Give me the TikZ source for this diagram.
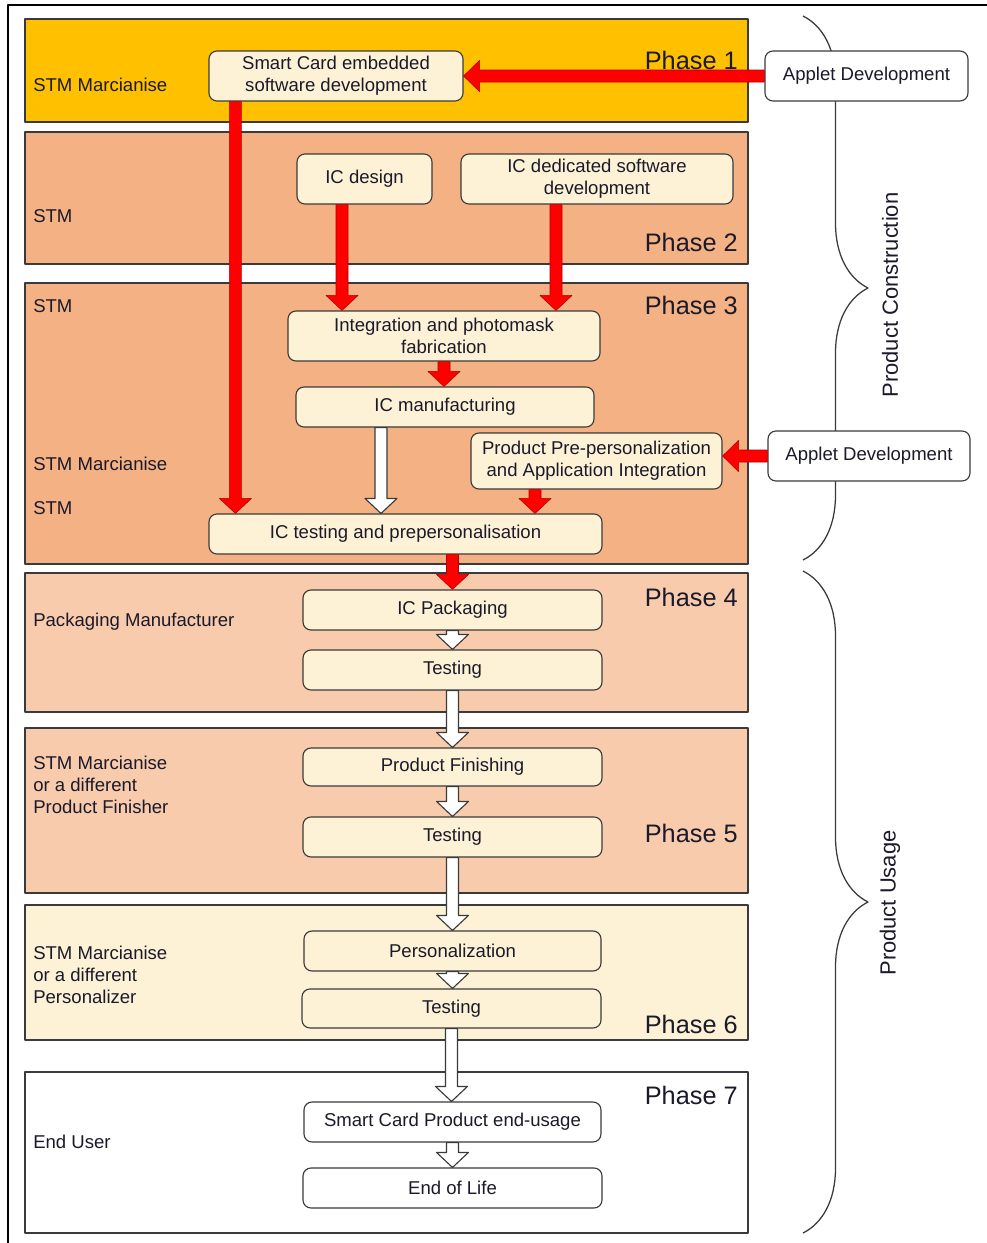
\documentclass[tikz,border=0pt]{standalone}
\usepackage{fontspec}
\setmainfont{Liberation Sans}
\usepackage{tikz}
\usetikzlibrary{calc,decorations.pathreplacing}
\definecolor{gold}{HTML}{FFC000}
\definecolor{peach}{HTML}{F4B183}
\definecolor{lightpeach}{HTML}{F8CBAD}
\definecolor{cream}{HTML}{FDF2D6}
\definecolor{ink}{HTML}{1A1A2A}
\definecolor{rim}{HTML}{3A3A3A}
\definecolor{flowred}{HTML}{FF0000}
\tikzset{
    every picture/.style={line join=round},
    band/.style={draw=rim,line width=0.9pt},
    actbox/.style={draw=rim,fill=cream,line width=0.8pt,rounded corners=2mm,
      inner sep=1pt,align=center,text=ink},
    userbox/.style={actbox,fill=white},
    who/.style={anchor=west,align=left,inner sep=0pt,text=ink},
    phase/.style={anchor=east,inner sep=0pt,text=ink,
      font=\fontsize{18}{20}\selectfont},
    sidelabel/.style={rotate=90,inner sep=0pt,text=ink,
      font=\fontsize{15.6}{18}\selectfont},
    blockdown/.style={to path={let \p1=(\tikztostart),\p2=(\tikztotarget) in
      (\x1-1.5mm,\y1) -- (\x1-1.5mm,\y2+3.75mm) -- (\x1-4mm,\y2+3.75mm) -- (\x1,\y2)
      -- (\x1+4mm,\y2+3.75mm) -- (\x1+1.5mm,\y2+3.75mm) -- (\x1+1.5mm,\y1) -- cycle}},
    blockleft/.style={to path={let \p1=(\tikztostart),\p2=(\tikztotarget) in
      (\x1,\y1-1.5mm) -- (\x2+4mm,\y1-1.5mm) -- (\x2+4mm,\y1-3.9mm) -- (\x2,\y1)
      -- (\x2+4mm,\y1+3.9mm) -- (\x2+4mm,\y1+1.5mm) -- (\x1,\y1+1.5mm) -- cycle}},
    redflow/.style={fill=flowred,draw=flowred!70!black,line width=0.4pt},
    whiteflow/.style={fill=white,draw=rim,line width=0.8pt},
    phasebrace/.style={decorate,decoration={brace,amplitude=16.25mm},
      draw=rim,line width=0.9pt}
}

\begin{document}
\begin{tikzpicture}[x=0.25mm,y=-0.25mm,font=\fontsize{13.2}{15.5}\selectfont]
  \useasboundingbox (0,0) rectangle (987,1243);
  \draw[line width=1.4pt] (8,1243) -- (8,5) -- (987,5);

  % phase bands
  \foreach \t/\b/\c in {19/122/gold,132/264/peach,283/564/peach,573/712/lightpeach,
                        728/893/lightpeach,905/1040/cream,1072/1233/white}
    \draw[band,fill=\c] (25,\t) rectangle (748,\b);
  \foreach \n/\y in {1/60,2/242,3/305,4/597,5/833,6/1024,7/1095}
    \node[phase] (ph\n) at (738,\y) {Phase \n};

  % who does it
  \node[who] (org1) at (33,85) {STM Marcianise};
  \node[who] (org2) at (33,216) {STM};
  \node[who] (org3a) at (33,306) {STM};
  \node[who] (org3b) at (33,464) {STM Marcianise};
  \node[who] (org3c) at (33,508) {STM};
  \node[who] (org4) at (33,622) {Packaging Manufacturer};
  \node[who] (org5) at (33,785) {STM Marcianise\\or a different\\Product Finisher};
  \node[who] (org6) at (33,975) {STM Marcianise\\or a different\\Personalizer};
  \node[who] (org7) at (33,1142) {End User};

  % construction / usage braces
  \draw[phasebrace] (803,16) -- (803,560);
  \draw[phasebrace] (803,571) -- (803,1233);
  \node[sidelabel] (constr) at (890,295) {Product Construction};
  \node[sidelabel] (usage) at (890,903) {Product Usage};

  % steps
  \node[actbox,minimum width=63.5mm,minimum height=12.5mm] (sced) at (336,76)
    {Smart Card embedded\\software development};
  \node[actbox,minimum width=33.75mm,minimum height=12.5mm] (icd) at (364.5,179) {IC design};
  \node[actbox,minimum width=68mm,minimum height=12.5mm] (icsw) at (597,179)
    {IC dedicated software\\development};
  \node[actbox,minimum width=78mm,minimum height=12.5mm] (integ) at (444,336)
    {Integration and photomask\\fabrication};
  \node[actbox,minimum width=74.5mm,minimum height=10mm] (icman) at (445,407) {IC manufacturing};
  \node[actbox,minimum width=62.75mm,minimum height=14mm] (prepers) at (596.5,461)
    {Product Pre-personalization\\and Application Integration};
  \node[actbox,minimum width=98.25mm,minimum height=10mm] (ictest) at (405.5,534)
    {IC testing and prepersonalisation};
  \node[actbox,minimum width=74.75mm,minimum height=10mm] (icpack) at (452.5,610) {IC Packaging};
  \node[actbox,minimum width=74.75mm,minimum height=10mm] (testa) at (452.5,670) {Testing};
  \node[actbox,minimum width=74.75mm,minimum height=9.5mm] (finish) at (452.5,767) {Product Finishing};
  \node[actbox,minimum width=74.75mm,minimum height=10mm] (testb) at (452.5,837) {Testing};
  \node[actbox,minimum width=74.25mm,minimum height=10mm] (pers) at (452.5,951) {Personalization};
  \node[actbox,minimum width=74.75mm,minimum height=9.75mm] (testc) at (451.5,1008.5) {Testing};
  \node[userbox,minimum width=74.25mm,minimum height=10mm] (enduse) at (452.5,1122)
    {Smart Card Product end-usage};
  \node[userbox,minimum width=74.75mm,minimum height=10mm] (eol) at (452.5,1188) {End of Life};
  \node[userbox,minimum width=50.75mm,minimum height=12.5mm] (appleta) at (866.5,76) {Applet Development};
  \node[userbox,minimum width=50.5mm,minimum height=12.5mm] (appletb) at (869,456) {Applet Development};

  % flows
  \draw[redflow,blockleft] (appleta.west) to (sced.east);
  \draw[redflow,blockleft] (appletb.west) to (prepers.east);
  \draw[redflow,blockdown] ($(sced.south west)+(27,0)$) to (ictest.north);
  \draw[redflow,blockdown] ($(icd.south)+(-22.5,0)$) to (integ.north);
  \draw[redflow,blockdown] ($(icsw.south)+(-41,0)$) to (integ.north);
  \draw[redflow,blockdown] (integ.south) to (icman.north);
  \draw[redflow,blockdown] ($(prepers.south)+(-61.5,0)$) to (ictest.north);
  \draw[redflow,blockdown] (ictest.south -| icpack.north) to (icpack.north);
  \draw[whiteflow,blockdown] ($(icman.south)+(-64,0)$) to (ictest.north);
  \draw[whiteflow,blockdown] (icpack.south) to (testa.north);
  \draw[whiteflow,blockdown] (testa.south) to (finish.north);
  \draw[whiteflow,blockdown] (finish.south) to (testb.north);
  \draw[whiteflow,blockdown] (testb.south) to (pers.north);
  \draw[whiteflow,blockdown] (pers.south) to (testc.north);
  \draw[whiteflow,blockdown] (testc.south) to (enduse.north);
  \draw[whiteflow,blockdown] (enduse.south) to (eol.north);
\end{tikzpicture}
\end{document}
